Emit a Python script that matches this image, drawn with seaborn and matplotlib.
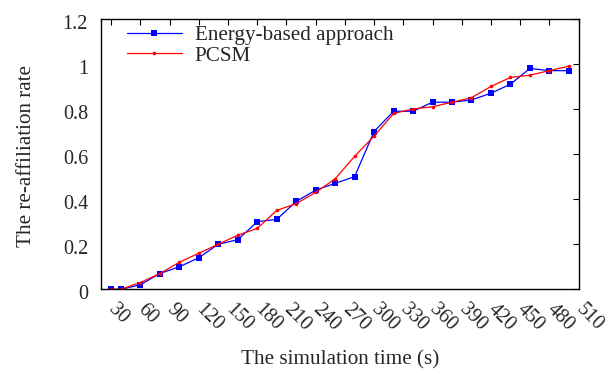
import matplotlib
matplotlib.use("Agg")
import matplotlib.pyplot as plt
import matplotlib.transforms as mtransforms
from matplotlib.lines import Line2D
import seaborn as sns
import pandas as pd

# Simulation times (s) and re-affiliation rates for both methods
times = [30, 40, 60, 80, 100, 120, 140, 160, 180, 200, 220, 240, 260,
         280, 300, 320, 340, 360, 380, 400, 420, 440, 460, 480, 500]
energy_based = [0.00, 0.00, 0.02, 0.07, 0.10, 0.14, 0.20, 0.22, 0.30, 0.31,
                0.39, 0.44, 0.47, 0.50, 0.70, 0.79, 0.79, 0.83, 0.83, 0.84,
                0.87, 0.91, 0.98, 0.97, 0.97]
pcsm = [0.00, 0.00, 0.03, 0.07, 0.12, 0.16, 0.20, 0.24, 0.27, 0.35,
        0.38, 0.43, 0.49, 0.59, 0.68, 0.78, 0.80, 0.81, 0.83, 0.85,
        0.90, 0.94, 0.95, 0.97, 0.99]
series_names = ["Energy-based approach", "PCSM"]
x_ticks = list(range(30, 511, 30))
y_ticks = [0, 0.2, 0.4, 0.6, 0.8, 1.0, 1.2]
y_tick_labels = ["0", "0.2", "0.4", "0.6", "0.8", "1", "1.2"]

df = pd.DataFrame({
    "time": times * 2,
    "rate": energy_based + pcsm,
    "method": [series_names[0]] * len(times) + [series_names[1]] * len(times),
})

sns.set_theme(style="white")
plt.rcParams["font.family"] = ["Liberation Serif", "DejaVu Serif"]

fig = plt.figure(figsize=(6.11, 3.69), dpi=100)
ax = fig.add_axes([0.166, 0.2160, 0.781, 0.733])

colors = {series_names[0]: "#0000ff", series_names[1]: "#ff0000"}
msizes = {series_names[0]: 4.4, series_names[1]: 2.6}
sns.lineplot(data=df, x="time", y="rate", hue="method", style="method",
             markers={series_names[0]: "s", series_names[1]: "o"},
             dashes=False, palette=colors, linewidth=0.9,
             markeredgewidth=0, ax=ax, legend=False)
for line, name in zip(ax.get_lines(), series_names):
    line.set_markersize(msizes[name])

ax.set_xlim(20, 510)
ax.set_ylim(0, 1.2)
ax.set_xticks(x_ticks)
ax.set_xticklabels([str(t) for t in x_ticks], rotation=-45, ha="left",
                   va="center", rotation_mode="anchor")
ax.set_yticks(y_ticks)
ax.set_yticklabels(y_tick_labels)
ax.tick_params(axis="both", which="major", direction="in", length=4,
               width=0.8, labelsize=14.5, top=True, right=True, color="black")
ax.tick_params(axis="x", pad=12.5)
ax.tick_params(axis="y", pad=9.6)

# y tick labels sit slightly below their ticks
shift = mtransforms.ScaledTranslation(0, -3.0 / 100, fig.dpi_scale_trans)
for lab in ax.get_yticklabels():
    lab.set_transform(lab.get_transform() + shift)

for sp in ax.spines.values():
    sp.set_color("black")
    sp.set_linewidth(1.0)

ax.set_xlabel("The simulation time (s)", fontsize=15.2)
ax.xaxis.set_label_coords(0.5, -0.225)
ax.set_ylabel("The re-affiliation rate", fontsize=15.2)
ax.yaxis.set_label_coords(-0.137, 0.493)

handles = [
    Line2D([], [], color=colors[n], lw=0.9, marker=m, markersize=msizes[n],
           markeredgewidth=0)
    for n, m in zip(series_names, ["s", "o"])
]
ax.legend(handles, series_names, loc="upper left", frameon=False,
          fontsize=15.2, handlelength=2.6, handletextpad=0.62,
          labelspacing=0.05, borderaxespad=0.0, borderpad=0.3,
          bbox_to_anchor=(0.04, 1.0))

fig.savefig("out.png", dpi=100)
